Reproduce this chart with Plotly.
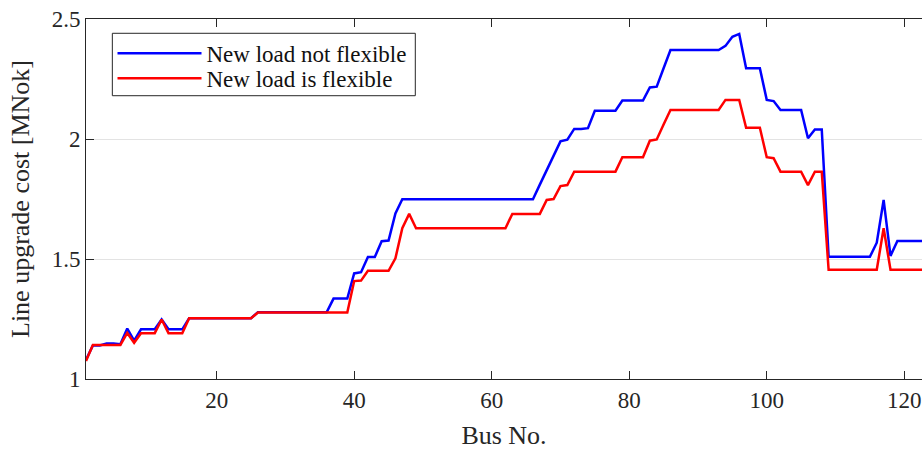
import plotly.graph_objects as go

bus = list(range(1, 124))

not_flexible = (
    [1.08, 1.14, 1.14, 1.148, 1.148, 1.145, 1.21, 1.16, 1.207, 1.207,
     1.207, 1.248, 1.207, 1.207, 1.207]
    + [1.253] * 10            # 16-25
    + [1.278] * 11            # 26-36
    + [1.335] * 3             # 37-39
    + [1.44, 1.445, 1.508, 1.508, 1.574, 1.577, 1.69]   # 40-46
    + [1.749] * 20            # 47-66
    + [1.81, 1.87, 1.93, 1.99, 1.997, 2.042, 2.042, 2.045]  # 67-74
    + [2.118] * 4             # 75-78
    + [2.16] * 4              # 79-82
    + [2.215, 2.218, 2.295]   # 83-85
    + [2.371] * 8             # 86-93
    + [2.388, 2.426, 2.438]   # 94-96
    + [2.295] * 3             # 97-99
    + [2.163, 2.158]          # 100-101
    + [2.121] * 4             # 102-105
    + [2.003, 2.04, 2.04]     # 106-108
    + [1.509] * 7             # 109-115
    + [1.568, 1.746, 1.513]   # 116-118
    + [1.575] * 5             # 119-123
)

flexible = (
    [1.075, 1.142, 1.142, 1.142, 1.142, 1.142, 1.192, 1.151, 1.191, 1.191,
     1.191, 1.248, 1.191, 1.191, 1.191]
    + [1.253] * 10            # 16-25
    + [1.277] * 14            # 26-39
    + [1.408, 1.41]           # 40-41
    + [1.451] * 4             # 42-45
    + [1.503, 1.628, 1.688]   # 46-48
    + [1.628] * 14            # 49-62
    + [1.688] * 5             # 63-67
    + [1.746, 1.75, 1.804, 1.808]  # 68-71
    + [1.864] * 7             # 72-78
    + [1.924] * 4             # 79-82
    + [1.993, 1.998, 2.06]    # 83-85
    + [2.121] * 8             # 86-93
    + [2.163] * 3             # 94-96
    + [2.047] * 3             # 97-99
    + [1.924, 1.92]           # 100-101
    + [1.864] * 4             # 102-105
    + [1.808, 1.864, 1.864]   # 106-108
    + [1.455] * 8             # 109-116
    + [1.628]                 # 117
    + [1.455] * 6             # 118-123
)

series_names = ["New load not flexible", "New load is flexible"]
x_ticks = [20, 40, 60, 80, 100, 120]
y_ticks = [1, 1.5, 2, 2.5]
y_tick_text = ["1", "1.5", "2", "2.5"]

FONT = "Liberation Serif"
AX = "#262626"

fig = go.Figure()
fig.add_trace(go.Scatter(x=bus, y=not_flexible, mode="lines",
                         name=series_names[0], legend="legend",
                         line=dict(color="#0000FF", width=2.5)))
fig.add_trace(go.Scatter(x=bus, y=flexible, mode="lines",
                         name=series_names[1], legend="legend2",
                         line=dict(color="#FF0000", width=2.5)))

leg_common = dict(xanchor="left", yanchor="middle", bgcolor="rgba(0,0,0,0)",
                  borderwidth=0,
                  font=dict(family=FONT, size=23, color="#111111"),
                  itemwidth=84)

fig.update_layout(
    width=922, height=450,
    margin=dict(l=86, r=0, t=19, b=71),
    paper_bgcolor="white", plot_bgcolor="white",
    font=dict(family=FONT, color=AX, size=23),
    showlegend=True,
    legend=dict(x=0.0317, y=0.9047, **leg_common),
    legend2=dict(x=0.0317, y=0.8353, **leg_common),
    shapes=[dict(type="rect", xref="paper", yref="paper",
                 x0=0.0315, x1=0.3939, y0=0.7869, y1=0.9603,
                 line=dict(color=AX, width=1), fillcolor="white",
                 layer="above")],
)
fig.update_xaxes(
    range=[1, 122.58], tickvals=x_ticks, ticks="inside", ticklen=8,
    tickcolor=AX, showline=True, linecolor=AX, linewidth=1, mirror="ticks",
    showgrid=False, zeroline=False,
    tickfont=dict(family=FONT, size=23, color=AX),
    title=dict(text="Bus No.", font=dict(family=FONT, size=26, color=AX), standoff=14),
)
fig.update_yaxes(
    range=[1, 2.5], tickvals=y_ticks, ticktext=y_tick_text, ticks="inside",
    ticklen=8, tickcolor=AX, showline=True, linecolor=AX, linewidth=1,
    mirror=False, showgrid=True, gridcolor="#e3e3e3", gridwidth=1,
    zeroline=False,
    tickfont=dict(family=FONT, size=23, color=AX),
    title=dict(text="Line upgrade cost [MNok]", font=dict(family=FONT, size=26, color=AX), standoff=14),
)

fig.write_html("out.html")
